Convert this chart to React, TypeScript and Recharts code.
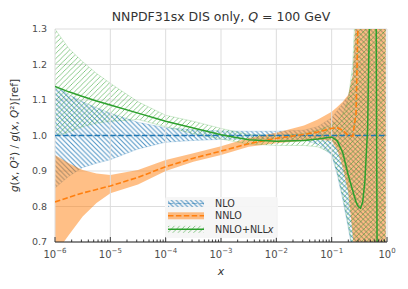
import React from "react";
import {
  Area,
  CartesianGrid,
  ComposedChart,
  Line,
  ReferenceLine,
  XAxis,
  YAxis,
} from "recharts";

const FONT = "DejaVu Sans, Liberation Sans, sans-serif";
const BLUE = "#1f77b4";
const ORANGE = "#ff7f0e";
const GREEN = "#2ca02c";

// x grid (log spaced by eye, denser where the curves turn over at large x)
const xs = [
  1e-6, 1.778e-6, 3.162e-6, 5.623e-6, 1e-5, 3.162e-5, 1e-4, 3.162e-4, 1e-3,
  3.162e-3, 1e-2, 3.162e-2, 0.05623, 0.1, 0.1259, 0.1585, 0.1995, 0.2399,
  0.2754, 0.302, 0.3311, 0.3631, 0.3981, 0.4467, 0.4898, 0.5248, 0.5754,
  0.631, 0.6761, 0.7586, 0.871, 0.95,
];

// NLO
const nloCentral = [
  1, 1, 1, 1, 1, 1, 1, 1, 1, 1, 1, 1, 1, 1, 1, 1, 1, 1, 1, 1, 1, 1, 1, 1, 1,
  1, 1, 1, 1, 1, 1, 1,
];
const nloLow = [
  0.852, 0.885, 0.91, 0.922, 0.932, 0.962, 0.981, 0.986, 0.989, 0.99, 0.99,
  0.988, 0.975, 0.945, 0.89, 0.82, 0.74, 0.67, 0.6, 0.4, 0.4, 0.4, 0.4, 0.4,
  0.4, 0.4, 0.4, 0.4, 0.4, 0.4, 0.4, 0.4,
];
const nloHigh = [
  1.14, 1.115, 1.095, 1.078, 1.063, 1.037, 1.022, 1.016, 1.013, 1.012, 1.012,
  1.015, 1.025, 1.05, 1.07, 1.09, 1.11, 1.16, 1.3, 1.45, 1.6, 1.6, 1.6, 1.6,
  1.6, 1.6, 1.6, 1.6, 1.6, 1.6, 1.6, 1.6,
];

// NNLO
const nnloCentral = [
  0.813, 0.826, 0.838, 0.848, 0.858, 0.882, 0.912, 0.936, 0.956, 0.977, 0.992,
  1.003, 1.01, 1.02, 1.022, 1.015, 1.0, 0.998, 1.06, 1.35, 1.6, 1.6, 1.6, 1.6,
  1.6, 1.6, 1.6, 1.6, 1.6, 1.6, 1.6, 1.6,
];
const nnloLow = [
  0.665, 0.72, 0.772, 0.81, 0.837, 0.862, 0.9, 0.926, 0.945, 0.968, 0.978,
  0.985, 0.988, 0.985, 0.96, 0.91, 0.84, 0.72, 0.6, 0.4, 0.4, 0.4, 0.4, 0.4,
  0.4, 0.4, 0.4, 0.4, 0.4, 0.4, 0.4, 0.4,
];
const nnloHigh = [
  0.945, 0.922, 0.903, 0.893, 0.889, 0.903, 0.931, 0.95, 0.97, 0.993, 1.008,
  1.028, 1.045, 1.067, 1.08, 1.095, 1.115, 1.17, 1.35, 1.6, 1.6, 1.6, 1.6, 1.6,
  1.6, 1.6, 1.6, 1.6, 1.6, 1.6, 1.6, 1.6,
];

// NNLO+NLLx
const nllxCentral = [
  1.138, 1.123, 1.11, 1.097, 1.086, 1.063, 1.04, 1.021, 1.002, 0.988, 0.984,
  0.986, 0.99, 0.996, 0.985, 0.952, 0.888, 0.845, 0.813, 0.8, 0.795, 0.812,
  0.87, 1.02, 1.4, 1.6, 1.6, 1.5, 0.3, 0.3, 0.3, 0.3,
];
const nllxLow = [
  0.998, 1.01, 1.025, 1.035, 1.04, 1.045, 1.025, 1.005, 0.99, 0.976, 0.972,
  0.972, 0.968, 0.95, 0.9, 0.83, 0.75, 0.68, 0.6, 0.4, 0.4, 0.4, 0.4, 0.4, 0.4,
  0.4, 0.4, 0.4, 0.4, 0.4, 0.4, 0.4,
];
const nllxHigh = [
  1.3, 1.245, 1.208, 1.175, 1.147, 1.095, 1.057, 1.04, 1.02, 1.003, 1.0, 1.005,
  1.015, 1.03, 1.04, 1.06, 1.1, 1.2, 1.4, 1.6, 1.6, 1.6, 1.6, 1.6, 1.6, 1.6,
  1.6, 1.6, 1.6, 1.6, 1.6, 1.6,
];

const decades = [1e-6, 1e-5, 1e-4, 1e-3, 1e-2, 1e-1, 1];
const decadeExp = ["\u22126", "\u22125", "\u22124", "\u22123", "\u22122", "\u22121", "0"];
const minorSteps = [2, 3, 4, 5, 6, 7, 8, 9];
const yTicks = [0.7, 0.8, 0.9, 1.0, 1.1, 1.2, 1.3];

const legendItems = ["NLO", "NNLO", "NNLO+NLL"];

const data = xs.map((x, i) => ({
  x,
  nlo: [nloLow[i], nloHigh[i]],
  nnlo: [nnloLow[i], nnloHigh[i]],
  nllx: [nllxLow[i], nllxHigh[i]],
  nloC: nloCentral[i],
  nnloC: nnloCentral[i],
  nllxC: nllxCentral[i],
}));

const xTicks = [
  ...decades,
  ...decades.slice(0, -1).flatMap((d) => minorSteps.map((m) => m * d)),
].sort((a, b) => a - b);

function XTick(props: any) {
  const { x, y, payload } = props;
  const idx = decades.indexOf(payload.value);
  const major = idx >= 0;
  return (
    <g>
      <line x1={x} x2={x} y1={y} y2={y - (major ? 5 : 2.5)} stroke="#262626" strokeWidth={0.9} />
      {major && (
        <text x={x} y={y + 15.5} textAnchor="middle" fontSize={10} fill="#4d4d4d" fontFamily={FONT}>
          10
          <tspan dy={-4.5} fontSize={7}>
            {decadeExp[idx]}
          </tspan>
        </text>
      )}
    </g>
  );
}

function Hatches({ suffix }: { suffix: string }) {
  return (
    <defs>
      <pattern id={`hatchBlue${suffix}`} patternUnits="userSpaceOnUse" width={4.8} height={4.8}>
        <path d="M0,0 L4.8,4.8 M-1,3.8 L1,5.8 M3.8,-1 L5.8,1" stroke={BLUE} strokeOpacity={0.8} strokeWidth={1.05} />
      </pattern>
      <pattern id={`hatchGreen${suffix}`} patternUnits="userSpaceOnUse" width={5.2} height={5.2}>
        <path d="M0,5.2 L5.2,0 M-1,1 L1,-1 M4.2,6.2 L6.2,4.2" stroke={GREEN} strokeOpacity={0.65} strokeWidth={0.85} />
      </pattern>
    </defs>
  );
}

export default function App() {
  return (
    <div style={{ position: "absolute", left: 0, top: 0, width: 408, height: 289, background: "#fff" }}>
      <ComposedChart
        width={408}
        height={289}
        data={data}
        margin={{ top: 29, right: 21, bottom: 0, left: 0 }}
      >
        <Hatches suffix="" />
        <CartesianGrid vertical={false} stroke="#dddddd" />
        {decades.map((d) => (
          <ReferenceLine key={d} x={d} stroke="#dddddd" strokeWidth={1} />
        ))}
        <XAxis
          dataKey="x"
          type="number"
          scale="log"
          domain={[1e-6, 1]}
          allowDataOverflow
          ticks={xTicks}
          interval={0}
          tick={<XTick />}
          tickLine={false}
          tickSize={0}
          tickMargin={0}
          axisLine={{ stroke: "#262626", strokeWidth: 1 }}
          height={47}
        />
        <YAxis
          type="number"
          domain={[0.7, 1.3]}
          allowDataOverflow
          ticks={yTicks}
          tickFormatter={(v: number) => v.toFixed(1)}
          tick={{ fontSize: 9.5, fill: "#4d4d4d", fontFamily: FONT }}
          axisLine={false}
          tickLine={false}
          width={55}
        />
        <Area
          dataKey="nlo"
          type="linear"
          fill="url(#hatchBlue)"
          fillOpacity={1}
          stroke={BLUE}
          strokeOpacity={0.25}
          strokeWidth={0.8}
          dot={false}
          activeDot={false}
          isAnimationActive={false}
        />
        <Area
          dataKey="nnlo"
          type="linear"
          fill={ORANGE}
          fillOpacity={0.5}
          stroke="none"
          dot={false}
          activeDot={false}
          isAnimationActive={false}
        />
        <Area
          dataKey="nllx"
          type="linear"
          fill="url(#hatchGreen)"
          fillOpacity={1}
          stroke={GREEN}
          strokeOpacity={0.25}
          strokeWidth={0.8}
          dot={false}
          activeDot={false}
          isAnimationActive={false}
        />
        <Line dataKey="nloC" type="linear" stroke={BLUE} strokeWidth={1.5} strokeDasharray="5.5 2.4" dot={false} activeDot={false} isAnimationActive={false} />
        <Line dataKey="nnloC" type="linear" stroke={ORANGE} strokeWidth={1.6} strokeDasharray="5.5 2.4" dot={false} activeDot={false} isAnimationActive={false} />
        <Line dataKey="nllxC" type="linear" stroke={GREEN} strokeWidth={1.5} dot={false} activeDot={false} isAnimationActive={false} />
      </ComposedChart>

      <svg
        width={408}
        height={289}
        style={{ position: "absolute", left: 0, top: 0, pointerEvents: "none" }}
        fontFamily={FONT}
      >
        <Hatches suffix="L" />
        <text x={221} y={21} textAnchor="middle" fontSize={12.5} fill="#333">
          NNPDF31sx DIS only, <tspan fontStyle="italic">Q</tspan> = 100 GeV
        </text>
        <text x={221} y={275} textAnchor="middle" fontSize={11} fill="#333" fontStyle="italic">
          x
        </text>
        <text
          transform="translate(18,135.5) rotate(-90)"
          textAnchor="middle"
          fontSize={10.5}
          fill="#333"
        >
          <tspan fontStyle="italic">g</tspan>(<tspan fontStyle="italic">x</tspan>, <tspan fontStyle="italic">Q</tspan>²) / <tspan fontStyle="italic">g</tspan>(<tspan fontStyle="italic">x</tspan>, <tspan fontStyle="italic">Q</tspan>²)[ref]
        </text>

        <rect x={165} y={197} width={113} height={41} rx={2} fill="#f5f5f5" fillOpacity={0.92} />
        {/* NLO */}
        <rect x={168} y={200} width={36} height={7} fill="url(#hatchBlueL)" />
        <line x1={168} x2={204} y1={203.5} y2={203.5} stroke={BLUE} strokeWidth={1.2} strokeDasharray="5.5 2.4" strokeOpacity={0.5} />
        <text x={215} y={203.5} dy="0.35em" fontSize={9.6} fill="#333">{legendItems[0]}</text>
        {/* NNLO */}
        <rect x={168} y={212.3} width={36} height={7} fill={ORANGE} fillOpacity={0.5} />
        <line x1={168} x2={204} y1={215.8} y2={215.8} stroke={ORANGE} strokeWidth={1.6} strokeDasharray="5.5 2.4" />
        <text x={215} y={215.8} dy="0.35em" fontSize={9.6} fill="#333">{legendItems[1]}</text>
        {/* NNLO+NLLx */}
        <rect x={168} y={225.8} width={36} height={7} fill="url(#hatchGreenL)" />
        <line x1={168} x2={204} y1={229.3} y2={229.3} stroke={GREEN} strokeWidth={1.5} />
        <text x={215} y={229.3} dy="0.35em" fontSize={9.6} fill="#333">
          {legendItems[2]}
          <tspan fontStyle="italic">x</tspan>
        </text>
      </svg>
    </div>
  );
}
